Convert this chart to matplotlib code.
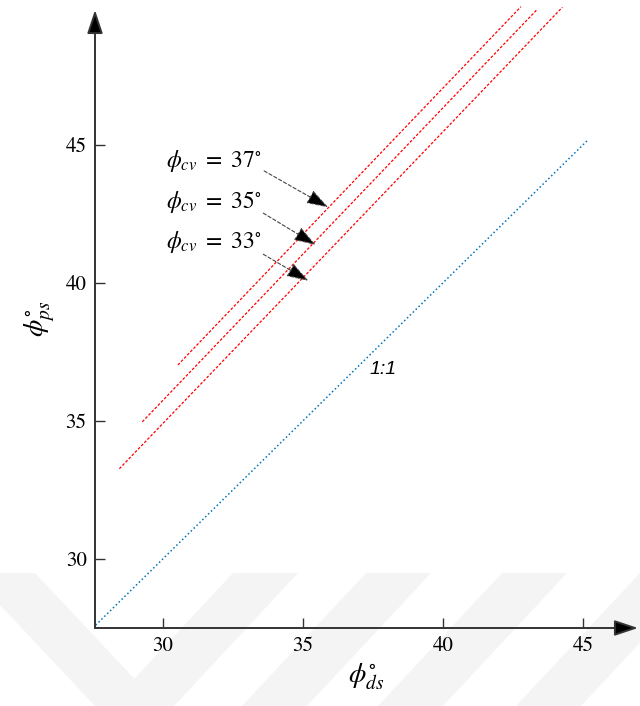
import matplotlib
matplotlib.use("Agg")
from matplotlib import pyplot as plt
from matplotlib.patches import Polygon

plt.rcParams['font.family'] = 'STIXGeneral'
plt.rcParams['mathtext.fontset'] = 'stix'

# phi_ds / phi_ps pairs for each critical state angle
phi_cv_values = [37, 35, 33]
phi_ds_37 = [30.54, 36.0, 42.79]
phi_ps_37 = [37.03, 42.82, 50.01]
phi_ds_35 = [29.27, 36.0, 43.35]
phi_ps_35 = [34.97, 42.10, 49.89]
phi_ds_33 = [28.45, 36.0, 44.27]
phi_ps_33 = [33.27, 41.24, 49.99]

# 1:1 reference line
one_to_one = [27.5, 45.2]

# label anchors (arrow start) and arrow tips on each line
label_pos = [(33.62, 44.06), (33.59, 42.53), (33.59, 41.04)]
arrow_tips = [(35.91, 42.74), (35.46, 41.38), (35.20, 40.08)]
text_pos = [(30.1, 44.42), (30.1, 42.92), (30.1, 41.48)]

W, H = 640, 706
fig = plt.figure(figsize=(W / 100, H / 100), dpi=100)

# faint background chevrons
def px(x, y):
    return (x / W, 1 - y / H)

stripes = [
    [(-30, 573), (35, 573), (160, 706), (95, 706)],
    [(233, 573), (298, 573), (174, 706), (109, 706)],
    [(366, 573), (431, 573), (307, 706), (242, 706)],
    [(502, 573), (567, 573), (443, 706), (378, 706)],
    [(640, 573), (705, 573), (581, 706), (516, 706)],
]
for s in stripes:
    fig.add_artist(Polygon([px(*p) for p in s], closed=True,
                           transform=fig.transFigure, facecolor='#f4f4f4',
                           edgecolor='none', zorder=-10))

ax = fig.add_axes([95 / W, 78 / H, 543 / W, 618 / H])
ax.patch.set_alpha(0)
ax.set_xlim(27.58, 46.97)
ax.set_ylim(27.5, 49.89)

ax.plot(one_to_one, one_to_one, ':', color='#0072BD', lw=1.1)
for xs, ys in [(phi_ds_37, phi_ps_37), (phi_ds_35, phi_ps_35), (phi_ds_33, phi_ps_33)]:
    ax.plot(xs, ys, '--', color='#ff0000', lw=0.9, dashes=(2.2, 1.4), clip_on=False)

for v, tp, lp, tip in zip(phi_cv_values, text_pos, label_pos, arrow_tips):
    ax.text(tp[0], tp[1], r'$\phi_{cv}\ =\ %d^{\circ}$' % v, fontsize=17,
            ha='left', va='center')
    ax.annotate('', xy=tip, xytext=lp,
                arrowprops=dict(arrowstyle='-|>,head_length=0.9,head_width=0.3',
                                linestyle=(0, (3, 2)), ec='#444444', fc='black',
                                lw=0.8, mutation_scale=15,
                                shrinkA=0, shrinkB=0))

ax.text(37.87, 36.85, '1:1', fontsize=14, style='italic',
        family='Liberation Sans', ha='center', va='center')

for side in ['top', 'right', 'left', 'bottom']:
    ax.spines[side].set_visible(False)

# axis lines with arrow heads
arrow_kw = dict(arrowstyle='-|>,head_length=0.9,head_width=0.3', ec='#333333',
                fc='black', lw=1.4, mutation_scale=16, shrinkA=0, shrinkB=0)
ax.annotate('', xy=(0, 1), xytext=(0, 0), xycoords='axes fraction',
            arrowprops=arrow_kw)
ax.annotate('', xy=(1, 0), xytext=(0, 0), xycoords='axes fraction',
            arrowprops=arrow_kw)

ax.set_xticks([30, 35, 40, 45])
ax.set_yticks([30, 35, 40, 45])
ax.tick_params(direction='in', length=7, width=1, color='#333333',
               labelsize=15, pad=6)

ax.set_xlabel(r'$\phi^{\circ}_{ds}$', fontsize=20, labelpad=4)
ax.set_ylabel(r'$\phi^{\circ}_{ps}$', fontsize=20, labelpad=6)

fig.savefig('out.png', dpi=100)
